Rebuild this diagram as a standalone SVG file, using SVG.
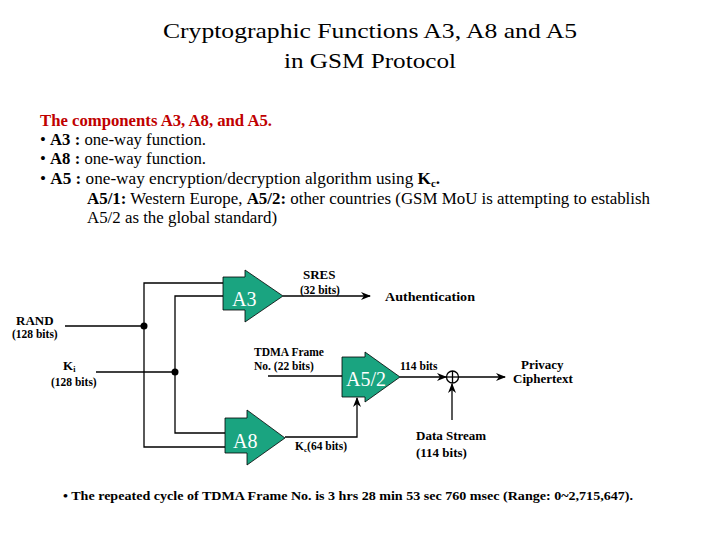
<svg xmlns="http://www.w3.org/2000/svg" width="720" height="540" viewBox="0 0 720 540">
<defs>
<style>
text{font-family:"Liberation Serif","Times New Roman",serif;fill:#000}
.t{font-size:22px;text-anchor:middle}
.b{font-size:16px}
.s{font-size:11.5px;font-weight:bold}
.m{font-size:13px;font-weight:bold}
.blk{fill:#1aa480;stroke:#000;stroke-width:0.8}
.bl{fill:#fff;font-size:20px}
.ln{stroke:#000;stroke-width:1.3;fill:none}
</style>
<marker id="ah" markerWidth="10" markerHeight="8" refX="9" refY="4" orient="auto" markerUnits="userSpaceOnUse"><path d="M0,0 L10,4 L0,8 L3,4 z" fill="#000"/></marker>
</defs>
<rect width="720" height="540" fill="#fff"/>
<text class="t" x="370" y="38" textLength="414" lengthAdjust="spacingAndGlyphs">Cryptographic Functions A3, A8 and A5</text>
<text class="t" x="370" y="68" textLength="172" lengthAdjust="spacingAndGlyphs">in GSM Protocol</text>
<text class="b" x="40" y="126" style="fill:#c00000;font-weight:bold" textLength="232" lengthAdjust="spacingAndGlyphs">The components A3, A8, and A5.</text>
<text class="b" x="40" y="145" textLength="166" lengthAdjust="spacingAndGlyphs">• <tspan font-weight="bold">A3 :</tspan> one-way function.</text>
<text class="b" x="40" y="164" textLength="166" lengthAdjust="spacingAndGlyphs">• <tspan font-weight="bold">A8 :</tspan> one-way function.</text>
<text class="b" x="40" y="184" textLength="400" lengthAdjust="spacingAndGlyphs">• <tspan font-weight="bold">A5 :</tspan> one-way encryption/decryption algorithm using <tspan font-weight="bold">K<tspan font-size="10" dy="3">c</tspan><tspan dy="-3">.</tspan></tspan></text>
<text class="b" x="87" y="204" textLength="563" lengthAdjust="spacingAndGlyphs"><tspan font-weight="bold">A5/1:</tspan> Western Europe, <tspan font-weight="bold">A5/2:</tspan> other countries (GSM MoU is attempting to establish</text>
<text class="b" x="87" y="223" textLength="190" lengthAdjust="spacingAndGlyphs">A5/2 as the global standard)</text>
<g id="connectors">
<line class="ln" x1="65" y1="326" x2="144" y2="326"/>
<polyline class="ln" points="223,283 144,283 144,447 225,447"/>
<line class="ln" x1="96" y1="372" x2="175" y2="372"/>
<polyline class="ln" points="223,296 175,296 175,433 225,433"/>
<circle cx="144" cy="326" r="3.5" fill="#000"/>
<circle cx="175" cy="372" r="3.5" fill="#000"/>
<line class="ln" x1="283" y1="296" x2="370" y2="296" marker-end="url(#ah)"/>
<line class="ln" x1="268" y1="376" x2="342" y2="376"/>
<polyline class="ln" points="285,437 357,437 357,398" marker-end="url(#ah)"/>
<line class="ln" x1="400" y1="377" x2="446" y2="377" marker-end="url(#ah)"/>
<line class="ln" x1="459" y1="377" x2="505" y2="377" marker-end="url(#ah)"/>
<line class="ln" x1="452" y1="420" x2="452" y2="384" marker-end="url(#ah)"/>
<circle cx="452.5" cy="377" r="6" fill="none" stroke="#000" stroke-width="1.3"/>
<line class="ln" x1="446.5" y1="377" x2="458.5" y2="377"/>
<line class="ln" x1="452.5" y1="371" x2="452.5" y2="383"/>
</g>
<g id="a3"><path class="blk" d="M223,277 H245 V270 L283,296 L245,322 V310 H223 Z"/><text class="bl" x="232" y="306">A3</text></g>
<g id="a8"><path class="blk" d="M225,418 H247 V410 L285,438 L247,465 V453 H225 Z"/><text class="bl" x="233" y="448">A8</text></g>
<g id="a52"><path class="blk" d="M342,357 H365 V352 L400,377 L365,402 V397 H342 Z"/><text class="bl" x="346" y="386">A5/2</text></g>
<g id="labels">
<text class="m" x="303" y="279">SRES</text>
<text class="s" x="300" y="294">(32 bits)</text>
<text class="m" x="385" y="301" textLength="90" lengthAdjust="spacingAndGlyphs">Authentication</text>
<text class="m" x="16" y="325">RAND</text>
<text class="s" x="12" y="338">(128 bits)</text>
<text class="m" x="63" y="370">K<tspan font-size="8" dy="2">i</tspan></text>
<text class="s" x="51" y="386">(128 bits)</text>
<text class="s" x="254" y="356">TDMA Frame</text>
<text class="s" x="254" y="370">No. (22 bits)</text>
<text class="s" x="400" y="370">114 bits</text>
<text class="m" x="521" y="369">Privacy</text>
<text class="m" x="513" y="383">Ciphertext</text>
<text class="s" x="295" y="450">K<tspan font-size="7" dy="2">c</tspan><tspan dy="-2">(64 bits)</tspan></text>
<text class="m" x="416" y="440">Data Stream</text>
<text class="m" x="416" y="457">(114 bits)</text>
<text class="m" x="63" y="500" textLength="570" lengthAdjust="spacingAndGlyphs">• The repeated cycle of TDMA Frame No. is 3 hrs 28 min 53 sec 760 msec (Range: 0~2,715,647).</text>
</g>
</svg>
